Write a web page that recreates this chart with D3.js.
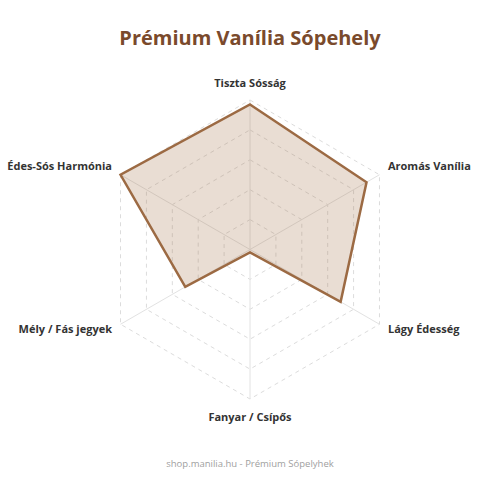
<!DOCTYPE html>
<html>
<head>
<meta charset="utf-8">
<script src="https://cdn.jsdelivr.net/npm/d3@7"></script>
<style>
  html, body { margin: 0; padding: 0; background: #fff; }
  #chart { width: 500px; height: 500px; }
  text { font-family: "Open Sans", "Noto Sans", sans-serif; }
</style>
</head>
<body>
<div id="chart"></div>
<script>
const axes = ['Tiszta Sósság', 'Aromás Vanília', 'Lágy Édesség', 'Fanyar / Csípős', 'Mély / Fás jegyek', 'Édes-Sós Harmónia'];
const values = [9.7, 9, 7, 0.2, 5, 10];
const levels = [2, 4, 6, 8, 10];
const title = 'Prémium Vanília Sópehely';
const footer = 'shop.manilia.hu - Prémium Sópelyhek';

(function() {
    const width = 500, height = 500;
    const cx = 250, cy = 249.5, R = 149.5;

    const svg = d3.select('#chart').append('svg')
        .attr('width', width)
        .attr('height', height);

    const r = d3.scaleLinear().domain([0, 10]).range([0, R]);
    const angle = d3.scalePoint().domain(axes).range([0, 2 * Math.PI * (axes.length - 1) / axes.length]);

    const pt = (name, v) => {
        const a = angle(name);
        return [cx + r(v) * Math.sin(a), cy - r(v) * Math.cos(a)];
    };

    const g = svg.append('g');

    // grid rings (dashed hexagons)
    levels.forEach(function(lv) {
        g.append('polygon')
            .attr('points', axes.map(a => pt(a, lv).join(',')).join(' '))
            .attr('fill', 'none')
            .attr('stroke', '#dcdcdc')
            .attr('stroke-width', 1)
            .attr('stroke-dasharray', '4,4');
    });

    // spokes
    axes.forEach(function(a) {
        const p = pt(a, 10);
        g.append('line')
            .attr('x1', cx).attr('y1', cy)
            .attr('x2', p[0]).attr('y2', p[1])
            .attr('stroke', '#e2e2e2')
            .attr('stroke-width', 1);
    });

    // data polygon
    g.append('polygon')
        .attr('points', axes.map((a, i) => pt(a, values[i]).join(',')).join(' '))
        .attr('fill', 'rgba(165, 112, 70, 0.24)')
        .attr('stroke', '#9c6a43')
        .attr('stroke-width', 2.5)
        .attr('stroke-linejoin', 'miter');

    // axis labels
    axes.forEach(function(a) {
        const ang = angle(a);
        const s = Math.sin(ang), c = Math.cos(ang);
        const p = pt(a, 10);
        let x = p[0], y = p[1], anchor = 'middle';
        if (Math.abs(s) < 0.01) {
            y = c > 0 ? p[1] - 13 : p[1] + 22;
        } else {
            anchor = s > 0 ? 'start' : 'end';
            x = p[0] + (s > 0 ? 8.5 : -8.5);
            y = c > 0 ? p[1] - 5 : p[1] + 9;
        }
        g.append('text')
            .attr('x', x).attr('y', y)
            .attr('text-anchor', anchor)
            .attr('font-size', '11px')
            .attr('font-weight', 'bold')
            .attr('fill', '#333')
            .text(a);
    });

    svg.append('text')
        .attr('x', cx).attr('y', 45)
        .attr('text-anchor', 'middle')
        .attr('font-size', '20px')
        .attr('font-weight', 'bold')
        .attr('fill', '#7a4a2c')
        .text(title);

    svg.append('text')
        .attr('x', cx).attr('y', 467)
        .attr('text-anchor', 'middle')
        .attr('font-size', '9.5px')
        .attr('fill', '#a0a0a0')
        .text(footer);
})();
</script>
</body>
</html>
